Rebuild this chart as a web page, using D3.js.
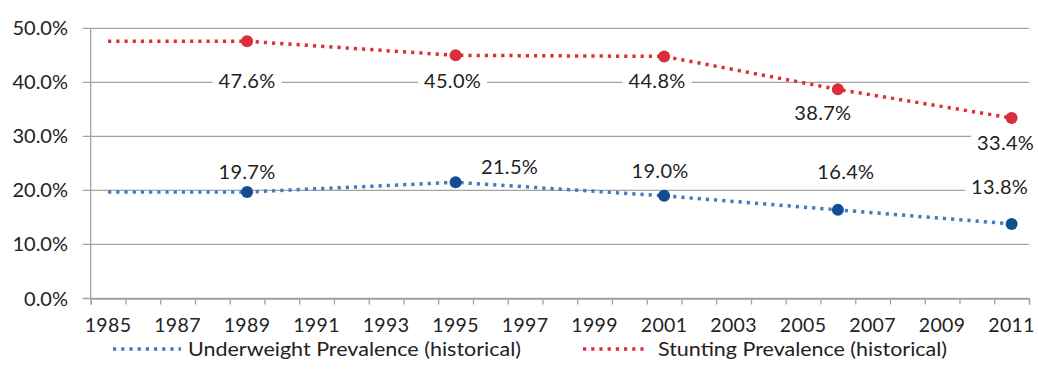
<!DOCTYPE html>
<html>
<head>
<meta charset="utf-8">
<script src="https://cdn.jsdelivr.net/npm/d3@7"></script>
<style>
  html, body { margin: 0; padding: 0; background: #fff; }
  svg { display: block; font-family: Lato, "Open Sans", sans-serif; }
</style>
</head>
<body>
<svg id="chart" width="1038" height="373"></svg>
<script>
// Survey years and prevalence (%); the 1985 point carries the first survey value back.
const years = [1985, 1989, 1995, 2001, 2006, 2011];
const surveyYears = [1989, 1995, 2001, 2006, 2011];
const underweight = [19.7, 19.7, 21.5, 19.0, 16.4, 13.8];
const stunting = [47.6, 47.6, 45.0, 44.8, 38.7, 33.4];
const yTicks = [0, 10, 20, 30, 40, 50];
const firstYear = 1985, lastYear = 2011;
const seriesNames = ["Underweight Prevalence (historical)", "Stunting Prevalence (historical)"];

// Label offsets from each survey marker (px)
const stuntLabelOffset = [[0, 40], [-3, 26], [-7, 25], [-15, 24], [-6, 25]];
const underLabelOffset = [[0, -20], [54, -15], [-4, -25], [8, -38], [-12, -37]];

const svg = d3.select("#chart");
const plotLeft = 90.7, plotRight = 1029, plotTop = 28.3, plotBottom = 298.5;
const fontSize = 20;

// Category axis: each year occupies one slot, ticks sit on slot boundaries
const x = d3.scaleLinear().domain([firstYear, lastYear + 1]).range([plotLeft, plotRight]);
const xc = yr => x(yr + 0.5);
const y = d3.scaleLinear().domain([0, 50]).range([plotBottom, plotTop]);

const gridColor = "#a3a3a3";
const textColor = "#222";
const redLine = "#d8303c", redMark = "#d92f3d";
const blueLine = "#3d7dc0", blueMark = "#114d93";

// Horizontal gridlines with outward ticks
svg.append("g").selectAll("line").data(yTicks).join("line")
  .attr("x1", plotLeft - 8).attr("x2", plotRight)
  .attr("y1", d => y(d)).attr("y2", d => y(d))
  .attr("stroke", gridColor).attr("stroke-width", 1.3);

// Y axis line
svg.append("line").attr("x1", plotLeft).attr("x2", plotLeft).attr("y1", plotTop).attr("y2", plotBottom)
  .attr("stroke", gridColor).attr("stroke-width", 1.3);

// Y tick labels
svg.append("g").selectAll("text").data(yTicks).join("text")
  .attr("x", 68).attr("y", d => y(d)).attr("dy", "0.35em")
  .attr("text-anchor", "end").attr("font-size", fontSize).attr("fill", textColor)
  .text(d => d3.format(".1f")(d) + "%");

// X axis ticks on slot boundaries
const xAxis = d3.axisBottom(x)
  .tickValues(d3.range(firstYear, lastYear + 2))
  .tickSize(6).tickFormat("");
const gx = svg.append("g").attr("transform", `translate(0,${plotBottom})`).call(xAxis);
gx.select(".domain").attr("stroke", gridColor).attr("stroke-width", 1.3);
gx.selectAll(".tick line").attr("stroke", gridColor).attr("stroke-width", 1.3);

// X labels for every other year, centred in its slot
svg.append("g").selectAll("text")
  .data(d3.range(firstYear, lastYear + 1, 2)).join("text")
  .attr("x", d => xc(d)).attr("y", 325).attr("dy", "0.35em")
  .attr("text-anchor", "middle").attr("font-size", 19.5).attr("fill", textColor)
  .attr("letter-spacing", 0.4)
  .text(d => d);

// Dotted series lines
const line = d3.line().x((d, i) => xc(years[i])).y(d => y(d));
function drawSeries(vals, color) {
  svg.append("path").datum(vals)
    .attr("d", line).attr("fill", "none")
    .attr("stroke", color).attr("stroke-width", 3.5)
    .attr("stroke-dasharray", "3.2,5");
}
drawSeries(underweight, blueLine);
drawSeries(stunting, redLine);

// Markers on survey years only
function drawMarkers(vals, color) {
  const pts = surveyYears.map(yr => ({ yr, v: vals[years.indexOf(yr)] }));
  svg.append("g").selectAll("circle").data(pts).join("circle")
    .attr("cx", d => xc(d.yr)).attr("cy", d => y(d.v))
    .attr("r", 6).attr("fill", color);
  return pts;
}
const bluePts = drawMarkers(underweight, blueMark);
const redPts = drawMarkers(stunting, redMark);

// Value labels on white boxes
function drawLabels(pts, offsets) {
  const g = svg.append("g");
  pts.forEach((p, i) => {
    const lg = g.append("g");
    const rect = lg.append("rect").attr("fill", "#fff");
    const t = lg.append("text")
      .attr("x", xc(p.yr) + offsets[i][0]).attr("y", y(p.v) + offsets[i][1])
      .attr("dy", "0.35em").attr("text-anchor", "middle")
      .attr("font-size", fontSize).attr("fill", textColor).attr("letter-spacing", 0.3)
      .text(d3.format(".1f")(p.v) + "%");
    const b = t.node().getBBox();
    rect.attr("x", b.x - 6).attr("y", b.y - 3)
      .attr("width", b.width + 12).attr("height", b.height + 6);
  });
}
drawLabels(redPts, stuntLabelOffset);
drawLabels(bluePts, underLabelOffset);

// Legend
const legend = [
  { name: seriesNames[0], color: blueLine, x0: 113, x1: 181, tx: 188, w: 333 },
  { name: seriesNames[1], color: redLine, x0: 583, x1: 648, tx: 658, w: 289 }
];
const lg = svg.append("g");
legend.forEach(d => {
  lg.append("line").attr("x1", d.x0).attr("x2", d.x1).attr("y1", 349).attr("y2", 349)
    .attr("stroke", d.color).attr("stroke-width", 3.5).attr("stroke-dasharray", "3.2,5");
  lg.append("text").attr("x", d.tx).attr("y", 349).attr("dy", "0.35em")
    .attr("font-size", 19.5).attr("fill", textColor)
    .attr("textLength", d.w).attr("lengthAdjust", "spacingAndGlyphs")
    .text(d.name);
});
</script>
</body>
</html>
